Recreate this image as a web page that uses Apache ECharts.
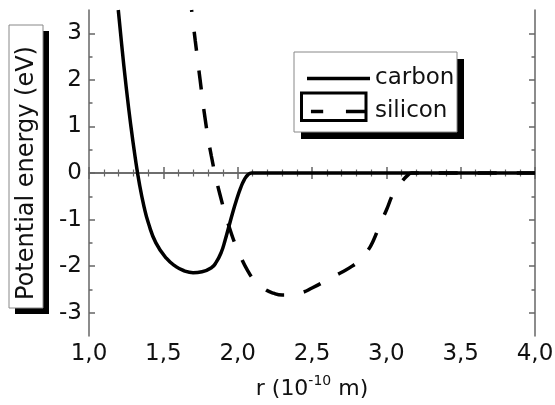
<!DOCTYPE html>
<html><head><meta charset="utf-8">
<script src="https://cdn.jsdelivr.net/npm/echarts@6/dist/echarts.min.js"></script>
<style>html,body{margin:0;padding:0;background:#fff}#c{width:555px;height:405px}</style>
</head><body><div id="c"></div>
<script>
// Carbon potential (r in 1e-10 m, E in eV)
const carbonR = [1.197, 1.220, 1.250, 1.280, 1.310, 1.340, 1.370, 1.400, 1.450, 1.520, 1.585, 1.640, 1.700, 1.760, 1.825, 1.855, 1.890, 1.915, 1.940, 1.965, 1.990, 2.020, 2.045, 2.070, 2.094, 4.000];
const carbonE = [3.50, 2.75, 1.85, 1.05, 0.35, -0.25, -0.72, -1.08, -1.50, -1.83, -2.01, -2.10, -2.14, -2.12, -2.03, -1.92, -1.70, -1.45, -1.16, -0.87, -0.60, -0.32, -0.14, -0.035, 0.00, 0.00];
// Silicon potential
const siliconR = [1.690, 1.715, 1.747, 1.780, 1.823, 1.880, 1.953, 2.010, 2.068, 2.120, 2.180, 2.240, 2.300, 2.370, 2.440, 2.500, 2.560, 2.620, 2.700, 2.770, 2.820, 2.870, 2.910, 2.960, 3.000, 3.050, 3.100, 3.150, 3.170, 4.000];
const siliconE = [3.50, 2.835, 2.01, 1.19, 0.365, -0.45, -1.255, -1.72, -2.10, -2.33, -2.49, -2.58, -2.62, -2.61, -2.56, -2.47, -2.37, -2.26, -2.13, -2.00, -1.87, -1.69, -1.47, -1.08, -0.80, -0.42, -0.20, -0.03, 0.00, 0.00];
const seriesNames = ['carbon', 'silicon'];
const yTicks = [-3, -2, -1, 0, 1, 2, 3];
const yMinorTicks = [-2.5, -1.5, -0.5, 0.5, 1.5, 2.5];
const xTickStep = 0.5;

const chart = echarts.init(document.getElementById('c'));
const axisColor = '#666';
const FONT = 'DejaVu Sans';
const lineCommon = { show: true, lineStyle: { color: axisColor, width: 1.5 } };
const fmtX = v => v.toFixed(1).replace('.', ',');

function xAx(pos, labels) {
  return {
    type: 'value', min: 1, max: 4, interval: xTickStep, position: pos,
    axisLine: lineCommon,
    axisTick: { show: true, inside: true, length: 6, lineStyle: { color: axisColor, width: 1.5 } },
    minorTick: { show: true, splitNumber: 5, length: 3.5, lineStyle: { color: axisColor, width: 1.2 } },
    splitLine: { show: false },
    axisLabel: { show: labels, formatter: fmtX, fontSize: 23, fontFamily: FONT, color: '#111', margin: 7 },
    name: labels ? 'r (10{sup|-10} m)' : '',
    nameLocation: 'middle', nameGap: 38,
    nameTextStyle: { fontFamily: FONT, fontSize: 22, color: '#111', lineHeight: 30,
      rich: { sup: { fontFamily: FONT, fontSize: 14, color: '#111', verticalAlign: 'top', lineHeight: 14 } } }
  };
}
function yAx(pos, ticks, len, labels, line, name) {
  return {
    type: 'value', min: -3.5, max: 3.5, position: pos,
    axisLine: line ? lineCommon : { show: false },
    axisTick: { show: true, inside: true, length: len, customValues: ticks, lineStyle: { color: axisColor, width: 1.5 } },
    splitLine: { show: false },
    axisLabel: { show: labels, customValues: ticks, fontSize: 23, fontFamily: FONT, color: '#111', margin: 7 },
    name: name || '', nameLocation: 'middle', nameRotate: 90, nameGap: 50,
    nameTextStyle: { fontFamily: FONT, fontSize: 24, color: '#111' }
  };
}

const dashIcon = 'path://M0,0H14V4H0Z M40,0H63V4H40Z';

chart.setOption({
  animation: false,
  backgroundColor: '#fff',
  grid: { left: 89, right: 20, top: 10, bottom: 69, containLabel: false, outerBoundsMode: 'none' },
  xAxis: [xAx('bottom', true), xAx('top', false)],
  yAxis: [
    yAx('left', yTicks, 6, true, true, 'Potential energy (eV)'),
    yAx('left', yMinorTicks, 3.5, false, false),
    yAx('right', yTicks, 6, false, true),
    yAx('right', yMinorTicks, 3.5, false, false)
  ],
  legend: {
    orient: 'vertical', left: 302, top: 62, itemWidth: 63, itemHeight: 3.5, itemGap: 10,
    selectedMode: false,
    data: [
      { name: seriesNames[0], icon: 'rect', itemStyle: { color: '#000' } },
      { name: seriesNames[1], icon: dashIcon, itemStyle: { color: '#000' } }
    ],
    textStyle: { fontFamily: FONT, fontSize: 23, color: '#111' }
  },
  graphic: [
    { type: 'rect', shape: { x: 9 + 6, y: 25 + 6, width: 34, height: 283 }, style: { fill: '#000' } },
    { type: 'rect', shape: { x: 9, y: 25, width: 34, height: 283 }, style: { fill: '#fff', stroke: '#888', lineWidth: 1 } },
    { type: 'rect', shape: { x: 294 + 7, y: 52 + 7, width: 163, height: 80 }, style: { fill: '#000' } },
    { type: 'rect', shape: { x: 294, y: 52, width: 163, height: 80 }, style: { fill: '#fff', stroke: '#888', lineWidth: 1 } },
    { type: 'rect', shape: { x: 301.5, y: 93, width: 64.5, height: 27.5 }, style: { fill: 'none', stroke: '#000', lineWidth: 3 } }
  ],
  series: [
    { name: seriesNames[0], type: 'line', xAxisIndex: 0, yAxisIndex: 0, symbol: 'none', showSymbol: false, smooth: 0.5,
      data: carbonR.map((r, i) => [r, carbonE[i]]),
      lineStyle: { color: '#000', width: 3.5 }, itemStyle: { color: '#000' } },
    { name: seriesNames[1], type: 'line', xAxisIndex: 0, yAxisIndex: 0, symbol: 'none', showSymbol: false, smooth: 0.5,
      data: siliconR.map((r, i) => [r, siliconE[i]]),
      lineStyle: { color: '#000', width: 3.5, type: [19, 20], dashOffset: 17, cap: 'butt' }, itemStyle: { color: '#000' } }
  ]
});
</script></body></html>
